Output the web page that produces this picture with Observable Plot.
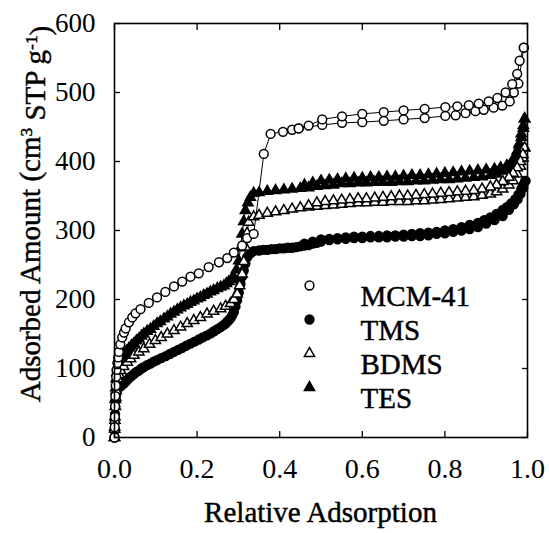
<!DOCTYPE html>
<html><head><meta charset="utf-8">
<script src="https://cdn.jsdelivr.net/npm/d3@7"></script>
<script src="https://cdn.jsdelivr.net/npm/@observablehq/plot@0.6"></script>
<style>body{margin:0;background:#fff} #chart{position:relative;width:549px;height:533px}</style>
</head><body><div id="chart"></div>
<script>
const seriesNames = ["MCM-41", "TMS", "BDMS", "TES"];
const xTicks = [0, 0.2, 0.4, 0.6, 0.8, 1.0];
const yTicks = [0, 100, 200, 300, 400, 500, 600];
const xLabel = "Relative Adsorption";

// MCM-41 (open circles)
const mcmAdsX = [0,0.0005,0.001,0.0015,0.002,0.003,0.004,0.005,0.007,0.009,0.0105,0.014,0.0186,0.023,0.027,0.035,0.043,0.051,0.063,0.083,0.103,0.123,0.144,0.164,0.184,0.204,0.228,0.253,0.273,0.289,0.309,0.321,0.337,0.3615,0.378,0.408,0.43,0.446,0.503,0.551,0.600,0.652,0.700,0.751,0.801,0.826,0.850,0.874,0.894,0.918,0.939,0.957,0.967,0.978,0.991];
const mcmAdsY = [0,15,30,45,60,75,88,98,108,116,124,135,145,152,158,167,174,180,186,195,203,211,219,226,233,238,247,254,260,268,278,289,295,411,440,443,446,448,453,456,457,459,461,463,466,467,470,473,475,478,481,487,500,513,565];
const mcmDesX = [0.991,0.981,0.975,0.963,0.947,0.927,0.906,0.882,0.858,0.830,0.801,0.751,0.700,0.652,0.600,0.551,0.503,0.470,0.446];
const mcmDesY = [565,546,527,512,500,492,487,484,481.5,480,478.7,476.3,474,471.5,469,465.5,461,452,448];

// TMS (filled circles)
const tmsAdsX = [0,0.0005,0.001,0.0015,0.002,0.003,0.004,0.006,0.010,0.016,0.0226,0.029,0.035,0.041,0.047,0.053,0.059,0.065,0.071,0.079,0.087,0.095,0.103,0.113,0.124,0.134,0.144,0.154,0.164,0.174,0.184,0.194,0.204,0.214,0.224,0.233,0.241,0.249,0.257,0.264,0.269,0.273,0.277,0.281,0.285,0.289,0.293,0.297,0.301,0.305,0.309,0.313,0.317,0.321,0.329,0.337,0.35,0.36,0.37,0.38,0.39,0.40,0.41,0.42,0.43,0.44,0.45,0.46,0.47,0.48,0.49,0.50,0.52,0.54,0.56,0.58,0.60,0.62,0.64,0.66,0.68,0.70,0.72,0.74,0.76,0.78,0.80,0.82,0.84,0.86,0.88,0.90,0.92,0.94,0.955,0.967,0.976,0.983,0.99,0.995];
const tmsAdsY = [0,10,22,34,45,55,62,68,72,75,78,82,86,89,92,95,97,100,102,105,107,110,112,115,118,121,124,127,130,133,136,139,142,145,148,151,154,157,160,163,165,168,170,173,177,182,190,199,210,223,233,242,252,261,267,270,271,272,272,273,273,274,274,275,275,276,277,278,279,281,282,284,286,287,288,289,289,290,290,290,291,291,292,292,293,295,296,298,300,302,305,310,315,321,330,338,345,353,362,372];
const tmsDesX = [0.995,0.99,0.985,0.978,0.97,0.96,0.95,0.94,0.925,0.91,0.895,0.88,0.86,0.84,0.82,0.80,0.78,0.76,0.74,0.72,0.70,0.68,0.66,0.64,0.62,0.60,0.58,0.56,0.54,0.52,0.50,0.48,0.46];
const tmsDesY = [372,366,360,352,345,339,334,330,324,319,315,311,308,305,302,300,298,297,296,295,294,293,293,292,292,291,291,290,289,288,287,284,281];

// BDMS (open triangles)
const bdmsAdsX = [0,0.0005,0.001,0.002,0.003,0.004,0.006,0.008,0.011,0.015,0.022,0.031,0.039,0.047,0.059,0.071,0.085,0.099,0.113,0.128,0.144,0.160,0.176,0.192,0.208,0.224,0.240,0.257,0.269,0.281,0.289,0.297,0.303,0.309,0.313,0.317,0.321,0.325,0.337,0.35,0.37,0.39,0.41,0.43,0.45,0.47,0.49,0.51,0.53,0.55,0.57,0.59,0.61,0.63,0.65,0.67,0.69,0.71,0.73,0.75,0.77,0.79,0.81,0.83,0.85,0.87,0.89,0.91,0.925,0.94,0.955,0.965,0.975,0.983,0.989,0.993];
const bdmsAdsY = [0,12,25,45,58,68,78,85,91,97,103,109,114,119,124,128.5,135,140.6,145,150,155,160,165,169.6,174,179,183,186.5,190,194,200,208,220,237,255,276,296,312,320,322,325,327,329,331,333,334,335,336,337,338,339,340,340,341,341,342,342,342,343,343,344,345,346,347,348,349,351,353,356,360,366,372,382,393,405,420];
const bdmsDesX = [0.993,0.989,0.983,0.975,0.965,0.955,0.94,0.925,0.91,0.89,0.87,0.85,0.83,0.81,0.79,0.77,0.75,0.73,0.71,0.69,0.67,0.65,0.63,0.61,0.59,0.57,0.55,0.53,0.51,0.49,0.47];
const bdmsDesY = [420,410,400,391,383,377,371,366,363,360,358,357,356,355,354,353,352,351,350,350,349,348,347,346,346,345,344,343,342,340,336];

// TES (filled triangles)
const tesAdsX = [0,0.0005,0.001,0.002,0.003,0.004,0.006,0.008,0.011,0.014,0.018,0.0226,0.029,0.035,0.041,0.047,0.053,0.059,0.065,0.071,0.079,0.087,0.095,0.103,0.111,0.120,0.128,0.136,0.144,0.152,0.160,0.168,0.176,0.184,0.192,0.2,0.208,0.216,0.224,0.232,0.240,0.249,0.257,0.265,0.271,0.277,0.283,0.289,0.295,0.301,0.305,0.309,0.313,0.317,0.323,0.329,0.337,0.35,0.37,0.39,0.41,0.43,0.45,0.47,0.49,0.51,0.53,0.55,0.57,0.59,0.61,0.63,0.65,0.67,0.69,0.71,0.73,0.75,0.77,0.79,0.81,0.83,0.85,0.87,0.89,0.91,0.925,0.94,0.951,0.96,0.968,0.975,0.98,0.985,0.99,0.993];
const tesAdsY = [0,15,30,55,72,85,95,100,106,112,117,121,125,129,133,136,140,143,147,150,154,157,161,165,168,172,175,179,182,185,188,191,193,196,198,201,203,206,208,211,213,216,218,220,223,226,229,232,243,256,275,295,313,329,340,348,354,355,357,358,359,360,361,362,364,365,366,368,368,369,369,370,370,370,371,371,372,372,373,374,374,375,376,377,378,380,382,386,390,396,404,415,424,435,448,462];
const tesDesX = [0.993,0.99,0.985,0.98,0.975,0.97,0.96,0.95,0.935,0.92,0.90,0.88,0.86,0.84,0.82,0.80,0.78,0.76,0.74,0.72,0.70,0.68,0.66,0.64,0.62,0.60,0.58,0.56,0.54,0.52,0.50,0.48,0.46];
const tesDesY = [462,452,440,426,414,406,398,394,391,389,388,387,386,385,384,383,382,381,380,380,379,378,378,377,377,376,376,375,374,373,372,369,366];

const branches = [
  [mcmAdsX, mcmAdsY, mcmDesX, mcmDesY],
  [tmsAdsX, tmsAdsY, tmsDesX, tmsDesY],
  [bdmsAdsX, bdmsAdsY, bdmsDesX, bdmsDesY],
  [tesAdsX, tesAdsY, tesDesX, tesDesY]
];
const rows = [];
branches.forEach((b, si) => {
  [[b[0], b[1], "ads"], [b[2], b[3], "des"]].forEach(([xs, ys, br]) => {
    xs.forEach((x, i) => rows.push({series: seriesNames[si], branch: br, key: seriesNames[si] + br, x, y: ys[i]}));
  });
});

const style = {
  "MCM-41": {symbol: "circle", fill: "white", r: 4.4},
  "TMS": {symbol: "circle", fill: "black", r: 4.4},
  "BDMS": {symbol: "triangle", fill: "white", r: 3.8},
  "TES": {symbol: "triangle", fill: "black", r: 3.8}
};

const FONT = "Liberation Serif";
const TXT = {stroke: "black", strokeWidth: 0.45};
const marks = [
  Plot.line(rows, {x: "x", y: "y", z: "key", stroke: "black", strokeWidth: 1}),
  ...["TMS", "TES", "BDMS", "MCM-41"].map(s => Plot.dot(rows.filter(d => d.series === s), {
    x: "x", y: "y", symbol: () => style[s].symbol, r: style[s].r, fill: style[s].fill, stroke: "black", strokeWidth: 1.5
  })),
  Plot.frame({stroke: "black", strokeWidth: 1.6}),
  Plot.axisX(xTicks, {anchor: "bottom", tickSize: 0, tickPadding: 21, tickFormat: d3.format(".1f"), fontSize: 28, label: null, ...TXT}),
  Plot.axisX(xTicks, {anchor: "bottom", tickSize: -6, text: null, label: null, strokeWidth: 1.3}),
  Plot.axisX(xTicks, {anchor: "top", tickSize: -6, text: null, label: null, strokeWidth: 1.3}),
  Plot.axisY(yTicks, {anchor: "left", tickSize: 0, tickPadding: 19, fontSize: 27, label: null, ...TXT}),
  Plot.axisY(yTicks, {anchor: "left", tickSize: -6, text: null, label: null, strokeWidth: 1.3}),
  Plot.axisY(yTicks, {anchor: "right", tickSize: -6, text: null, label: null, strokeWidth: 1.3}),
  ...seriesNames.map((s, i) => Plot.dot([s], {frameAnchor: "top-left", dx: 195, dy: 262 + 34 * i,
    symbol: () => style[s].symbol, r: style[s].r, fill: style[s].fill, stroke: "black", strokeWidth: 1.5})),
  ...seriesNames.map((s, i) => Plot.text([s], {frameAnchor: "top-left", dx: 246, dy: 262 + 34 * i,
    text: d => d, textAnchor: "start", fontSize: 29, fill: "black", ...TXT}))
];

const chart = Plot.plot({
  width: 549, height: 533,
  marginLeft: 114, marginRight: 22, marginTop: 23, marginBottom: 96,
  style: {fontFamily: FONT, background: "white", color: "black"},
  x: {domain: [0, 1], label: xLabel, axis: null},
  y: {domain: [0, 600], axis: null},
  marks
});

const svg = d3.select(chart);
svg.append("text").attr("x", 320.5).attr("y", 522).attr("text-anchor", "middle")
  .attr("font-size", 29).attr("font-family", FONT).attr("fill", "black")
  .attr("stroke", "black").attr("stroke-width", 0.45).text(xLabel);
const yl = svg.append("text").attr("transform", "translate(40,214) rotate(-90)").attr("text-anchor", "middle")
  .attr("font-size", 29).attr("font-family", FONT).attr("fill", "black")
  .attr("stroke", "black").attr("stroke-width", 0.45);
yl.append("tspan").text("Adsorbed Amount (cm");
yl.append("tspan").attr("dy", "-0.45em").attr("font-size", "0.6em").text("3");
yl.append("tspan").attr("dy", "0.45em").text(" STP g");
yl.append("tspan").attr("dy", "-0.45em").attr("font-size", "0.6em").text("-1");
yl.append("tspan").attr("dy", "0.45em").text(")");

document.getElementById("chart").appendChild(chart);
</script></body></html>
